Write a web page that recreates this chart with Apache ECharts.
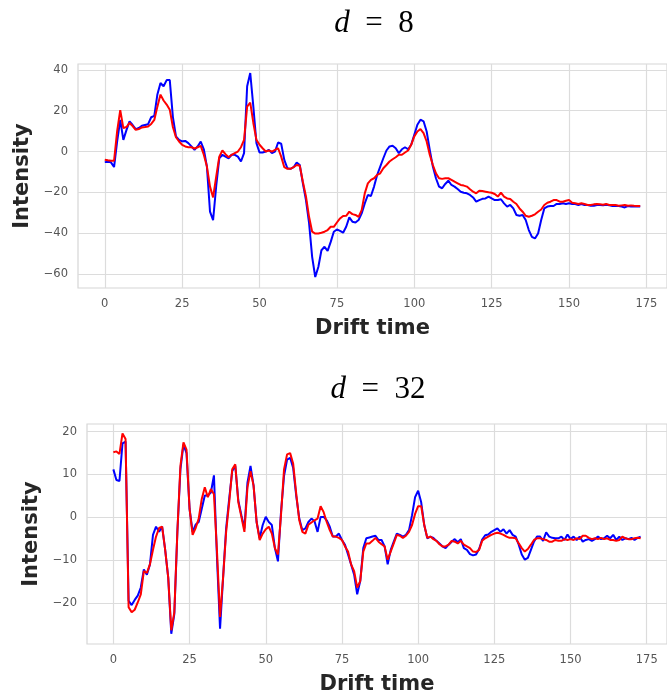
<!DOCTYPE html>
<html>
<head>
<meta charset="utf-8">
<script src="https://cdn.jsdelivr.net/npm/echarts@6/dist/echarts.min.js"></script>
<style>
  html, body { margin: 0; padding: 0; background: #ffffff; }
  #chart { width: 667px; height: 696px; }
</style>
</head>
<body>
<div id="chart"></div>
<script>
// Drift-time samples (0 … 173)
const driftTime = [
  0,1,2,3,4,5,6,7,8,9,10,11,12,13,14,15,16,17,18,19,20,21,22,23,24,25,26,27,28,29,
  30,31,32,33,34,35,36,37,38,39,40,41,42,43,44,45,46,47,48,49,50,51,52,53,54,55,56,57,58,59,
  60,61,62,63,64,65,66,67,68,69,70,71,72,73,74,75,76,77,78,79,80,81,82,83,84,85,86,87,88,89,
  90,91,92,93,94,95,96,97,98,99,100,101,102,103,104,105,106,107,108,109,110,111,112,113,114,115,116,117,118,119,
  120,121,122,123,124,125,126,127,128,129,130,131,132,133,134,135,136,137,138,139,140,141,142,143,144,145,146,147,148,149,
  150,151,152,153,154,155,156,157,158,159,160,161,162,163,164,165,166,167,168,169,170,171,172,173
];

// d = 8 : measured (blue) and reconstructed (red) intensity
const d8Blue = [
  -5.2,-5.0,-5.3,-7.6,5.0,15.5,5.7,10.5,14.8,13.0,11.0,11.5,12.6,13.0,13.4,16.8,17.5,28.0,33.6,32.0,
  35.0,35.0,17.0,7.4,5.7,5.0,5.2,4.1,2.5,0.8,2.5,4.9,1.1,-7.4,-29.5,-33.6,-17.0,-3.3,-1.6,-2.5,
  -3.3,-1.6,-1.6,-2.5,-4.9,-0.8,32.0,38.5,22.0,4.1,-0.5,-0.5,0.0,0.8,-0.8,0.0,4.4,3.8,-4.1,-8.2,
  -8.5,-7.7,-5.4,-6.6,-15.6,-23.8,-35.0,-51.6,-61.5,-56.6,-48.4,-46.7,-48.7,-44.3,-39.3,-38.2,-38.9,-39.8,-36.9,-32.3,
  -34.4,-34.8,-33.6,-30.3,-25.4,-21.3,-21.8,-17.2,-11.5,-7.4,-3.3,0.5,2.5,2.8,1.6,-0.8,1.1,2.1,1.1,3.3,
  8.2,13.1,15.6,14.8,9.8,0.8,-7.4,-13.1,-17.2,-18.0,-15.9,-14.3,-16.4,-17.2,-18.4,-19.7,-20.2,-20.5,-21.3,-22.5,
  -24.6,-23.8,-23.2,-23.0,-22.1,-23.0,-23.8,-23.8,-23.4,-25.4,-27.0,-26.2,-27.9,-31.1,-31.5,-31.1,-33.6,-38.5,-41.8,-42.6,
  -40.2,-33.6,-27.9,-27.0,-26.7,-26.7,-25.7,-25.7,-25.4,-25.7,-25.4,-25.7,-25.7,-26.2,-25.7,-26.2,-26.2,-26.6,-26.6,-26.2,
  -26.2,-26.4,-26.1,-26.4,-26.7,-26.6,-26.7,-27.0,-27.4,-26.7,-27.0,-26.9,-26.9,-27.0
];
const d8Red = [
  -4.0,-4.3,-4.5,-4.5,10.0,20.3,11.5,12.0,14.0,12.5,10.6,11.0,11.8,12.0,12.3,13.5,15.5,22.0,27.9,25.0,
  23.0,20.5,12.0,7.0,4.9,3.3,2.5,2.1,2.1,1.5,2.1,2.8,-1.6,-7.4,-17.2,-22.5,-12.3,-2.5,0.5,-1.3,
  -2.8,-1.6,-0.8,0.0,2.1,5.7,22.0,24.0,14.0,5.7,3.3,1.6,0.0,0.5,0.0,0.8,1.6,-2.5,-7.7,-8.5,
  -8.5,-7.7,-6.6,-7.0,-14.8,-22.0,-32.0,-39.3,-40.2,-40.2,-39.8,-39.3,-38.5,-36.9,-36.9,-34.8,-32.8,-31.6,-31.5,-29.5,
  -30.7,-31.1,-32.0,-28.7,-20.5,-15.6,-13.9,-13.1,-11.5,-10.7,-8.2,-6.6,-4.9,-3.8,-2.8,-1.6,-1.6,-0.5,0.5,3.3,
  7.4,9.8,11.0,9.0,4.9,-1.6,-6.6,-10.7,-13.1,-13.4,-13.1,-13.1,-13.9,-14.8,-15.6,-16.4,-16.7,-17.2,-18.5,-19.7,
  -20.5,-19.2,-19.4,-19.7,-20.0,-20.2,-20.8,-22.1,-20.2,-22.1,-23.0,-23.3,-24.6,-25.7,-27.9,-29.5,-31.5,-32.0,-31.5,-30.8,
  -29.5,-28.4,-26.2,-25.1,-24.6,-23.8,-23.8,-24.6,-24.6,-24.1,-23.8,-25.1,-25.4,-25.7,-25.4,-25.7,-26.2,-26.2,-25.9,-25.7,
  -25.9,-26.1,-25.7,-26.2,-26.2,-26.2,-26.6,-26.4,-26.2,-26.6,-26.4,-26.6,-26.7,-26.7
];

// d = 32 : measured (blue) and reconstructed (red) intensity
const d32Blue = [
  11.2,8.7,8.5,17.3,17.7,-19.5,-20.5,-19.3,-18.3,-16.4,-12.2,-13.4,-11.0,-4.1,-2.2,-3.4,-2.2,-7.6,-14.1,-27.2,
  -22.6,-3.4,11.2,17.0,15.0,2.0,-3.4,-1.7,-1.1,2.0,5.1,5.1,5.8,9.8,-9.5,-26.0,-14.1,-2.6,4.3,10.8,
  12.0,3.9,0.5,-2.6,8.1,12.0,7.4,-1.1,-4.9,-1.8,0.1,-1.1,-1.8,-7.2,-10.3,1.2,9.7,13.5,13.9,11.5,
  5.0,-0.3,-3.0,-2.6,-1.1,-0.3,-0.9,-3.4,0.1,0.1,-0.7,-2.2,-4.5,-4.5,-3.8,-5.3,-6.4,-8.7,-11.0,-13.4,
  -18.0,-14.9,-7.2,-4.9,-4.7,-4.5,-4.3,-5.3,-5.3,-6.8,-11.0,-7.6,-5.7,-3.8,-4.1,-4.5,-4.1,-3.0,0.5,4.7,
  6.2,3.5,-1.8,-4.9,-4.5,-4.8,-5.5,-6.1,-6.8,-7.2,-6.4,-5.7,-5.1,-5.8,-5.1,-7.2,-7.6,-8.6,-8.9,-8.7,
  -7.4,-5.2,-4.2,-4.0,-3.4,-3.0,-2.6,-3.4,-2.8,-3.8,-3.0,-4.1,-4.5,-6.4,-8.7,-9.9,-9.5,-7.6,-5.7,-4.5,
  -4.5,-5.5,-3.5,-4.5,-4.8,-4.9,-4.9,-4.5,-5.3,-4.0,-5.1,-4.5,-5.3,-4.5,-5.7,-5.3,-5.1,-5.5,-5.1,-4.5,
  -5.1,-4.9,-4.3,-4.9,-4.1,-5.3,-4.5,-5.3,-4.9,-5.1,-4.8,-5.3,-4.8,-4.5
];
const d32Red = [
  15.2,15.4,14.8,19.6,18.3,-21.0,-22.2,-21.6,-19.9,-18.0,-12.6,-13.0,-11.0,-7.6,-4.5,-2.5,-2.2,-7.6,-14.1,-26.4,
  -22.2,-3.4,12.0,17.5,15.8,2.0,-4.1,-2.5,-0.3,4.3,7.0,4.7,6.6,5.4,-8.0,-23.3,-14.1,-3.4,3.5,11.2,
  12.4,3.5,0.1,-3.4,7.0,10.8,7.4,-1.1,-5.3,-3.8,-2.8,-2.2,-3.8,-7.2,-8.7,0.5,11.2,14.7,15.0,12.5,
  5.5,-0.7,-3.4,-3.8,-1.7,-1.2,-0.7,-0.3,2.6,1.2,-1.1,-3.0,-4.5,-4.5,-4.8,-5.3,-6.8,-8.0,-11.0,-12.6,
  -16.4,-14.9,-8.0,-6.1,-6.1,-5.5,-4.8,-5.7,-6.3,-6.8,-9.9,-8.0,-6.1,-4.1,-4.3,-4.8,-4.3,-3.4,-1.8,0.8,
  2.6,2.6,-1.8,-4.8,-4.5,-5.1,-5.5,-6.3,-6.8,-6.8,-6.4,-5.5,-5.7,-6.1,-5.5,-6.4,-6.8,-7.2,-8.0,-8.1,
  -7.6,-5.5,-4.9,-4.5,-4.1,-3.8,-3.6,-3.8,-4.1,-4.5,-4.8,-4.8,-4.9,-6.1,-7.2,-8.0,-7.4,-6.4,-5.3,-4.9,
  -4.9,-5.1,-5.3,-5.7,-5.7,-5.3,-5.5,-5.5,-5.1,-5.3,-5.1,-5.3,-4.9,-5.1,-4.3,-4.3,-4.8,-5.1,-4.9,-5.1,
  -4.8,-5.1,-4.9,-5.3,-5.3,-5.5,-5.3,-4.5,-4.9,-5.1,-5.1,-4.9,-4.8,-4.9
];

// Tick labels
const xTicks = [0, 25, 50, 75, 100, 125, 150, 175];
const yTicksTop = [-60, -40, -20, 0, 20, 40];
const yTicksBottom = [-20, -10, 0, 10, 20];

const pairs = (ys) => driftTime.map((t, i) => [t, ys[i]]);

const gridColor = '#dcdcdc';
const labelStyle = { color: '#555555', fontFamily: 'DejaVu Sans', fontSize: 11.5 };
const nameStyle = { color: '#262626', fontFamily: 'DejaVu Sans', fontSize: 21, fontWeight: 'bold' };
const fmt = (v) => (v < 0 ? '\u2212' + Math.abs(v) : String(v));

function xAxis(gridIndex) {
  return {
    type: 'value', gridIndex, min: -8.65, max: 181.65,
    name: 'Drift time', nameLocation: 'middle', nameGap: 30, nameTextStyle: nameStyle,
    axisLine: { show: false }, axisTick: { show: false, customValues: xTicks },
    axisLabel: Object.assign({ customValues: xTicks, margin: 10, formatter: fmt }, labelStyle),
    splitLine: { show: true, lineStyle: { color: gridColor, width: 1.2 } }
  };
}
function yAxis(gridIndex, min, max, ticks, gap) {
  return {
    type: 'value', gridIndex, min, max,
    name: 'Intensity', nameLocation: 'middle', nameRotate: 90, nameGap: gap, nameTextStyle: nameStyle,
    axisLine: { show: false }, axisTick: { show: false, customValues: ticks },
    axisLabel: Object.assign({ customValues: ticks, margin: 10, formatter: fmt }, labelStyle),
    splitLine: { show: true, lineStyle: { color: gridColor, width: 1.2 } }
  };
}
function line(xi, yi, data, color) {
  return {
    type: 'line', xAxisIndex: xi, yAxisIndex: yi, data, showSymbol: false,
    lineStyle: { color, width: 2 }, itemStyle: { color }, animation: false, clip: true
  };
}

// Math-style panel titles: italic variable, upright relation and number
const titleRich = {
  i: { fontFamily: 'Liberation Serif', fontStyle: 'italic', fontWeight: 'normal', fontSize: 31, color: '#000' },
  n: { fontFamily: 'Liberation Serif', fontWeight: 'normal', fontSize: 31, color: '#000' }
};

const chart = echarts.init(document.getElementById('chart'), null, { renderer: 'canvas' });
chart.setOption({
  backgroundColor: '#ffffff',
  animation: false,
  title: [
    { text: '{i|d}{n|\u2002=\u20028}', left: 369, top: 3, textAlign: 'center', textStyle: { fontWeight: 'normal', rich: titleRich } },
    { text: '{i|d}{n|\u2002=\u200232}', left: 373, top: 369, textAlign: 'center', textStyle: { fontWeight: 'normal', rich: titleRich } }
  ],
  grid: [
    { left: 78, top: 64, width: 591, height: 224, show: true, borderColor: '#d6d6d6', borderWidth: 1.2, backgroundColor: '#fff' },
    { left: 87, top: 424, width: 582, height: 223, show: true, borderColor: '#d6d6d6', borderWidth: 1.2, backgroundColor: '#fff' }
  ],
  xAxis: [xAxis(0), xAxis(1)],
  yAxis: [
    yAxis(0, -66.9, 42.9, yTicksTop, 38),
    yAxis(1, -29.6, 21.8, yTicksBottom, 41)
  ],
  series: [
    line(0, 0, pairs(d8Blue), '#0000ff'),
    line(0, 0, pairs(d8Red), '#ff0000'),
    line(1, 1, pairs(d32Blue), '#0000ff'),
    line(1, 1, pairs(d32Red), '#ff0000')
  ]
});
</script>
</body>
</html>
